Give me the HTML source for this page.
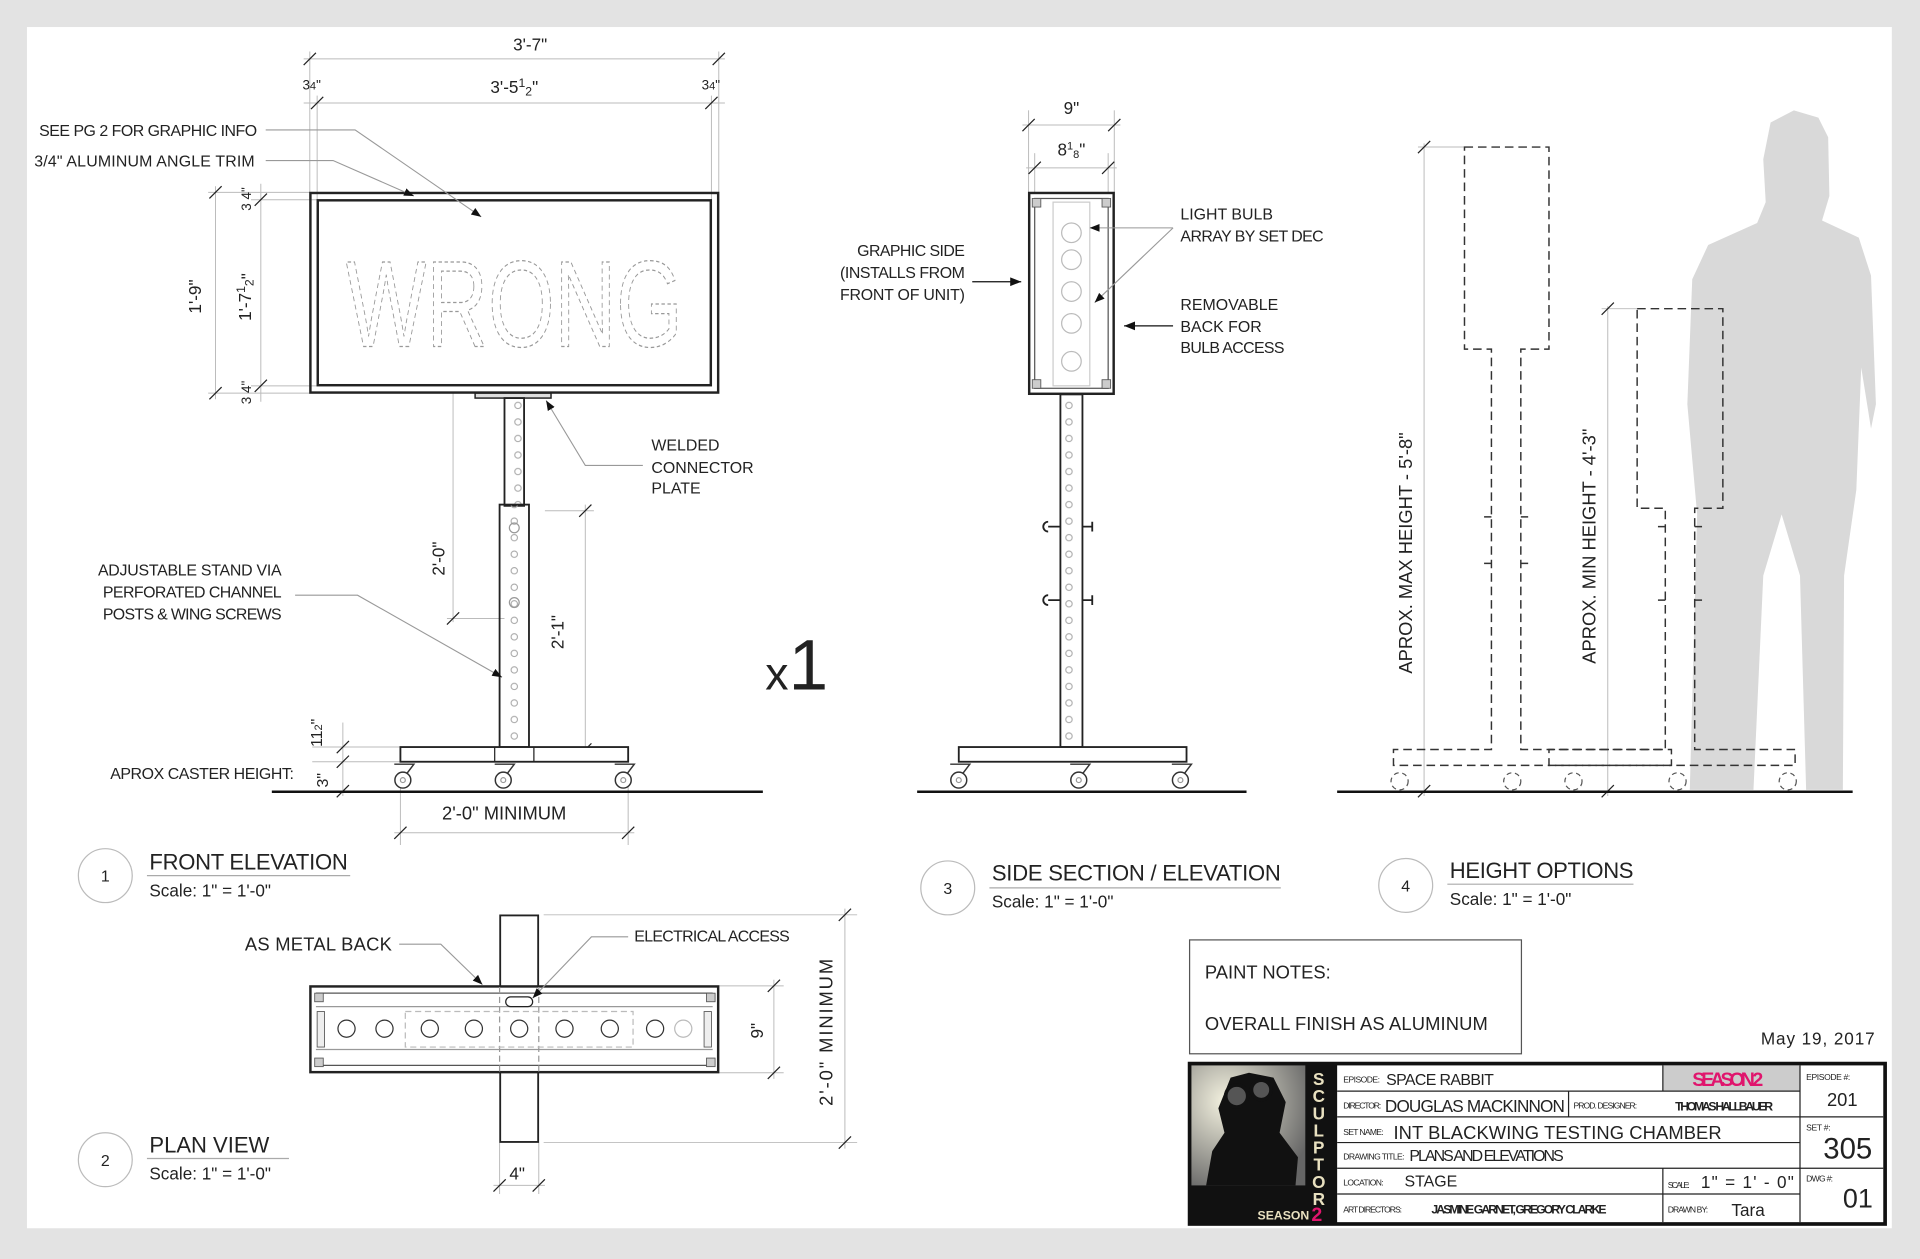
<!DOCTYPE html>
<html><head><meta charset="utf-8"><style>
html,body{margin:0;padding:0;background:#e3e3e3;}
svg{display:block;}
text{font-family:"Liberation Sans",sans-serif;fill:#222;}
</style></head><body>
<svg width="1920" height="1259" viewBox="0 0 1568 1028" xmlns="http://www.w3.org/2000/svg">
<defs>
<pattern id="holes" x="0" y="0" width="24" height="13.5" patternUnits="userSpaceOnUse">
<circle cx="12" cy="7" r="2.6" fill="none" stroke="#aaa" stroke-width="0.9"/></pattern>
<pattern id="holes2" x="0" y="0" width="18" height="13.5" patternUnits="userSpaceOnUse">
<circle cx="9" cy="7" r="2.6" fill="none" stroke="#aaa" stroke-width="0.9"/></pattern>
<marker id="ar" viewBox="0 0 10 10" refX="10" refY="5" markerWidth="9" markerHeight="9" orient="auto-start-reverse"><path d="M0,1 L10,5 L0,9 z" fill="#111"/></marker>
<g id="caster"><path d="M-8,-12 L8,-12 L2,-4" fill="none" stroke="#333" stroke-width="1.2"/><circle cx="-1" cy="1" r="6.5" fill="#fff" stroke="#333" stroke-width="1.2"/><circle cx="-1" cy="1" r="2" fill="none" stroke="#999"/></g>
<radialGradient id="rg" cx="0.3" cy="0.3" r="0.8"><stop offset="0" stop-color="#f4f2e0"/><stop offset="1" stop-color="#666"/></radialGradient>
</defs>
<rect x="0" y="0" width="1568" height="1028" fill="#e3e3e3"/>
<rect x="22" y="22" width="1523" height="981" fill="#fff"/>

<g stroke="#bbb" stroke-width="0.8" fill="none">
<line x1="253" y1="42" x2="253" y2="157"/><line x1="587" y1="42" x2="587" y2="157"/>
<line x1="259" y1="78" x2="259" y2="163"/><line x1="581" y1="78" x2="581" y2="163"/>
<line x1="248" y1="48" x2="592" y2="48"/><line x1="248" y1="84" x2="592" y2="84"/>
<line x1="170" y1="157" x2="253" y2="157"/><line x1="205" y1="163" x2="259" y2="163"/>
<line x1="170" y1="321" x2="253" y2="321"/><line x1="205" y1="315" x2="259" y2="315"/>
<line x1="176" y1="152" x2="176" y2="326"/><line x1="213" y1="150" x2="213" y2="328"/>
<line x1="370" y1="321" x2="370" y2="508"/><line x1="365" y1="505" x2="412" y2="505"/>
<line x1="445" y1="417" x2="485" y2="417"/><line x1="478" y1="412" x2="478" y2="612"/>
<line x1="255" y1="610" x2="327" y2="610"/><line x1="255" y1="622" x2="327" y2="622"/><line x1="275" y1="646" x2="327" y2="646"/>
<line x1="280" y1="590" x2="280" y2="650"/>
<line x1="327" y1="636" x2="327" y2="690"/><line x1="513" y1="636" x2="513" y2="690"/>
<line x1="322" y1="680" x2="518" y2="680"/>
<line x1="840" y1="90" x2="840" y2="157"/><line x1="910" y1="90" x2="910" y2="157"/>
<line x1="845" y1="125" x2="845" y2="157"/><line x1="905" y1="125" x2="905" y2="157"/>
<line x1="835" y1="102" x2="915" y2="102"/><line x1="838" y1="137" x2="912" y2="137"/>
<line x1="444" y1="747" x2="700" y2="747"/><line x1="444" y1="933" x2="700" y2="933"/>
<line x1="690" y1="742" x2="690" y2="938"/>
<line x1="587" y1="805" x2="640" y2="805"/><line x1="587" y1="876" x2="640" y2="876"/>
<line x1="632" y1="800" x2="632" y2="881"/>
<line x1="408" y1="933" x2="408" y2="975"/><line x1="440" y1="933" x2="440" y2="975"/><line x1="403" y1="968" x2="445" y2="968"/>
<line x1="1163" y1="117" x2="1163" y2="650"/><line x1="1158" y1="120" x2="1196" y2="120"/>
<line x1="1313" y1="250" x2="1313" y2="650"/><line x1="1308" y1="252" x2="1337" y2="252"/>
</g>
<g stroke="#222" stroke-width="1">
<path d="M248,53 l10,-10 M582,53 l10,-10 M254,89 l10,-10 M576,89 l10,-10 M171,162 l10,-10 M171,326 l10,-10 M208,168 l10,-10 M208,320 l10,-10 M365,510 l10,-10 M473,422 l10,-10 M473,617 l10,-10 M275,615 l10,-10 M275,627 l10,-10 M275,651 l10,-10 M322,685 l10,-10 M508,685 l10,-10 M835,107 l10,-10 M905,107 l10,-10 M840,142 l10,-10 M900,142 l10,-10 M685,752 l10,-10 M685,938 l10,-10 M627,810 l10,-10 M627,881 l10,-10 M403,973 l10,-10 M435,973 l10,-10 M1158,125 l10,-10 M1158,651 l10,-10 M1308,257 l10,-10 M1308,651 l10,-10"/>
</g>

<!-- FRONT ELEVATION -->
<rect x="253.5" y="157.5" width="333" height="163" fill="none" stroke="#222" stroke-width="2"/>
<rect x="259.5" y="163.5" width="321" height="151" fill="none" stroke="#222" stroke-width="2"/>
<text x="420" y="283" font-size="100" text-anchor="middle" stroke="#999" stroke-width="1" stroke-dasharray="4,3" style="fill:none" textLength="275" lengthAdjust="spacingAndGlyphs">WRONG</text>
<rect x="388" y="321" width="62" height="4" fill="#ddd" stroke="#222" stroke-width="1.2"/>
<rect x="412" y="325" width="16" height="88" fill="url(#holes2)" stroke="#222" stroke-width="1.5"/>
<rect x="408" y="412" width="24" height="198" fill="url(#holes)" stroke="#222" stroke-width="1.5"/>
<circle cx="420" cy="431" r="4" fill="none" stroke="#999"/><circle cx="420" cy="492" r="4" fill="none" stroke="#999"/>
<rect x="327" y="610" width="186" height="12" fill="#fff" stroke="#222" stroke-width="1.5"/>
<line x1="404" y1="610" x2="404" y2="622" stroke="#222"/><line x1="436" y1="610" x2="436" y2="622" stroke="#222"/>
<use href="#caster" x="330" y="636"/><use href="#caster" x="412" y="636"/><use href="#caster" x="510" y="636"/>
<line x1="222" y1="646.5" x2="623" y2="646.5" stroke="#111" stroke-width="2"/>

<g font-size="13">
<text x="433" y="41" text-anchor="middle" font-size="14">3'-7"</text>
<text x="420" y="76" text-anchor="middle" font-size="14">3'-5<tspan font-size="10" dy="-5">1</tspan><tspan font-size="10" dy="7">2</tspan><tspan dy="-2">"</tspan></text>
<text x="247" y="73" font-size="11">3<tspan font-size="9">4</tspan>"</text>
<text x="573" y="73" font-size="11">3<tspan font-size="9">4</tspan>"</text>
<text x="32" y="111" textLength="178">SEE PG 2 FOR GRAPHIC INFO</text>
<text x="28" y="136" textLength="180">3/4" ALUMINUM ANGLE TRIM</text>
<text transform="translate(164,256) rotate(-90)" font-size="14">1'-9"</text>
<text transform="translate(205,262) rotate(-90)" font-size="14">1'-7<tspan font-size="10" dy="-5">1</tspan><tspan font-size="10" dy="7">2</tspan>"</text>
<text transform="translate(205,172) rotate(-90)" font-size="11">3 4"</text>
<text transform="translate(205,330) rotate(-90)" font-size="11">3 4"</text>
<text x="532" y="368">WELDED</text><text x="532" y="386">CONNECTOR</text><text x="532" y="403">PLATE</text>
<text transform="translate(363,470) rotate(-90)" font-size="14">2'-0"</text>
<text transform="translate(460,530) rotate(-90)" font-size="14">2'-1"</text>
<text x="80" y="470" textLength="150">ADJUSTABLE STAND VIA</text><text x="84" y="488" textLength="146">PERFORATED CHANNEL</text><text x="84" y="506" textLength="146">POSTS &amp; WING SCREWS</text>
<text transform="translate(263,610) rotate(-90)" font-size="13">11<tspan font-size="9">2</tspan>"</text>
<text transform="translate(268,643) rotate(-90)" font-size="13">3"</text>
<text x="90" y="636" textLength="150">APROX CASTER HEIGHT:</text>
<text x="361" y="669" font-size="15">2'-0"  MINIMUM</text>
</g>
<g stroke="#999" stroke-width="0.9" fill="none">
<path d="M217,106 L290,106 L393,177" marker-end="url(#ar)"/>
<path d="M217,131 L272,131 L338,160" marker-end="url(#ar)"/>
<path d="M525,380 L478,380 L446,327" marker-end="url(#ar)"/>
<path d="M241,486 L292,486 L410,553" marker-end="url(#ar)"/>
</g>
<text x="625" y="563" font-size="38">x<tspan font-size="58">1</tspan></text>

<circle cx="86" cy="715" r="22" fill="none" stroke="#bbb"/><text x="86" y="720" font-size="13" text-anchor="middle">1</text>
<text x="122" y="710" font-size="18" textLength="162">FRONT ELEVATION</text><line x1="120" y1="715" x2="286" y2="715" stroke="#aaa"/>
<text x="122" y="732" font-size="14">Scale: 1" = 1'-0"</text>

<!-- SIDE -->
<rect x="840.5" y="157.5" width="69" height="164" fill="none" stroke="#222" stroke-width="2"/>
<rect x="845" y="162" width="60" height="155" fill="none" stroke="#555" stroke-width="1"/>
<rect x="860" y="165" width="30" height="150" fill="none" stroke="#ccc"/>
<g fill="none" stroke="#bbb"><circle cx="875" cy="190" r="8"/><circle cx="875" cy="212" r="8"/><circle cx="875" cy="238" r="8"/><circle cx="875" cy="264" r="8"/><circle cx="875" cy="295" r="8"/></g>
<g fill="#ccc" stroke="#555" stroke-width="0.7"><rect x="843" y="162" width="7" height="7"/><rect x="900" y="162" width="7" height="7"/><rect x="843" y="310" width="7" height="7"/><rect x="900" y="310" width="7" height="7"/></g>
<rect x="866" y="322" width="18" height="288" fill="url(#holes2)" stroke="#222" stroke-width="1.5"/>
<path d="M866,430 h-10 M856,426 a4,4 0 1 0 0,8 M884,430 h8 M892,426 v8 M866,490 h-10 M856,486 a4,4 0 1 0 0,8 M884,490 h8 M892,486 v8" stroke="#222" fill="none" stroke-width="1.5"/>
<rect x="783" y="610" width="186" height="12" fill="#fff" stroke="#222" stroke-width="1.5"/>
<use href="#caster" x="784" y="636"/><use href="#caster" x="882" y="636"/><use href="#caster" x="965" y="636"/>
<line x1="749" y1="646.5" x2="1018" y2="646.5" stroke="#111" stroke-width="2"/>
<g font-size="13">
<text x="875" y="93" text-anchor="middle" font-size="14">9"</text>
<text x="875" y="127" text-anchor="middle" font-size="14">8<tspan font-size="9" dy="-5">1</tspan><tspan font-size="9" dy="7">8</tspan><tspan dy="-2">"</tspan></text>
<text x="700" y="209" textLength="88">GRAPHIC SIDE</text><text x="686" y="227" textLength="102">(INSTALLS FROM</text><text x="686" y="245" textLength="102">FRONT OF UNIT)</text>
<text x="964" y="179">LIGHT BULB</text><text x="964" y="197" textLength="117">ARRAY BY SET DEC</text>
<text x="964" y="253">REMOVABLE</text><text x="964" y="271">BACK FOR</text><text x="964" y="288" textLength="85">BULB ACCESS</text>
</g>
<g stroke="#111" stroke-width="1" fill="none">
<path d="M794,230 L834,230" marker-end="url(#ar)"/>
<path d="M958,266 L918,266" marker-end="url(#ar)"/>
</g>
<g stroke="#999" stroke-width="0.9" fill="none">
<path d="M958,186 L890,186" marker-end="url(#ar)"/>
<path d="M958,186 L894,247" marker-end="url(#ar)"/>
</g>
<circle cx="774" cy="725" r="22" fill="none" stroke="#bbb"/><text x="774" y="730" font-size="13" text-anchor="middle">3</text>
<text x="810" y="719" font-size="18" textLength="236">SIDE SECTION / ELEVATION</text><line x1="808" y1="725" x2="1046" y2="725" stroke="#aaa"/>
<text x="810" y="741" font-size="14">Scale: 1" = 1'-0"</text>

<!-- HEIGHT OPTIONS -->
<path d="M1380,645 L1386,420 L1378,330 L1382,228 L1395,200 L1435,182 L1442,165 L1440,130 L1446,100 L1465,90 L1485,96 L1493,112 L1494,160 L1488,180 L1518,194 L1528,225 L1532,330 L1528,350 L1520,300 L1516,400 L1506,470 L1505,645 L1475,645 L1470,470 L1455,420 L1440,470 L1432,645 Z" fill="#d9d9d9"/>
<g fill="none" stroke="#333" stroke-width="1.2" stroke-dasharray="7,4">
<path d="M1196,120 L1265,120 L1265,285 L1242,285 L1242,612 L1365,612 L1365,625 L1138,625 L1138,612 L1218,612 L1218,285 L1196,285 Z"/>
<path d="M1337,252 L1407,252 L1407,415 L1384,415 L1384,612 L1466,612 L1466,625 L1265,625 L1265,612 L1360,612 L1360,415 L1337,415 Z"/>
<path d="M1218,422 h-6 M1218,460 h-6 M1242,422 h6 M1242,460 h6 M1360,430 h-6 M1360,490 h-6 M1384,430 h6 M1384,490 h6"/>
</g>
<g fill="none" stroke="#555" stroke-width="1" stroke-dasharray="4,3">
<circle cx="1143" cy="638" r="7"/><circle cx="1235" cy="638" r="7"/><circle cx="1285" cy="638" r="7"/><circle cx="1370" cy="638" r="7"/><circle cx="1460" cy="638" r="7"/>
</g>
<line x1="1092" y1="646.5" x2="1513" y2="646.5" stroke="#111" stroke-width="2"/>
<text transform="translate(1153,550) rotate(-90)" font-size="15">APROX. MAX HEIGHT -    5'-8"</text>
<text transform="translate(1303,542) rotate(-90)" font-size="15">APROX. MIN HEIGHT -    4'-3"</text>
<circle cx="1148" cy="723" r="22" fill="none" stroke="#bbb"/><text x="1148" y="728" font-size="13" text-anchor="middle">4</text>
<text x="1184" y="717" font-size="18" textLength="150">HEIGHT OPTIONS</text><line x1="1182" y1="722" x2="1334" y2="722" stroke="#aaa"/>
<text x="1184" y="739" font-size="14">Scale: 1" = 1'-0"</text>

<!-- PLAN VIEW -->
<rect x="408.5" y="747.5" width="31" height="185" fill="#fff" stroke="#222" stroke-width="1.5"/>
<rect x="253.5" y="805.5" width="333" height="70" fill="#fff" stroke="#222" stroke-width="2"/>
<line x1="258" y1="811" x2="582" y2="811" stroke="#555"/><line x1="258" y1="870" x2="582" y2="870" stroke="#555"/>
<line x1="258" y1="822" x2="582" y2="822" stroke="#999"/><line x1="258" y1="857" x2="582" y2="857" stroke="#999"/>
<line x1="408" y1="806" x2="408" y2="875" stroke="#999" stroke-dasharray="5,3"/><line x1="440" y1="806" x2="440" y2="875" stroke="#999" stroke-dasharray="5,3"/>
<rect x="331" y="826" width="186" height="29" fill="none" stroke="#bbb" stroke-dasharray="5,3"/>
<rect x="413" y="814" width="22" height="8" rx="4" fill="#fff" stroke="#222"/>
<g fill="#fff" stroke="#333"><circle cx="283" cy="840" r="7"/><circle cx="314" cy="840" r="7"/><circle cx="351" cy="840" r="7"/><circle cx="387" cy="840" r="7"/><circle cx="424" cy="840" r="7"/><circle cx="461" cy="840" r="7"/><circle cx="498" cy="840" r="7"/><circle cx="535" cy="840" r="7"/><circle cx="558" cy="840" r="7" stroke="#bbb"/></g>
<g fill="#ccc" stroke="#555" stroke-width="0.7"><rect x="257" y="811" width="7" height="7"/><rect x="577" y="811" width="7" height="7"/><rect x="257" y="864" width="7" height="7"/><rect x="577" y="864" width="7" height="7"/><rect x="259" y="826" width="6" height="29" fill="#eee"/><rect x="575" y="826" width="6" height="29" fill="#eee"/></g>
<text x="200" y="776" font-size="15" textLength="120">AS METAL BACK</text>
<text x="518" y="769" font-size="13" textLength="127">ELECTRICAL ACCESS</text>
<g stroke="#999" stroke-width="0.9" fill="none">
<path d="M326,771 L360,771 L394,804" marker-end="url(#ar)"/>
<path d="M513,765 L483,765 L435,815" marker-end="url(#ar)"/>
</g>
<text transform="translate(623,848) rotate(-90)" font-size="14">9"</text>
<text transform="translate(680,903) rotate(-90)" font-size="15" textLength="120">2'-0"   MINIMUM</text>
<text x="416" y="963" font-size="14">4"</text>
<circle cx="86" cy="947" r="22" fill="none" stroke="#bbb"/><text x="86" y="952" font-size="13" text-anchor="middle">2</text>
<text x="122" y="941" font-size="18">PLAN VIEW</text><line x1="120" y1="946" x2="236" y2="946" stroke="#aaa"/>
<text x="122" y="963" font-size="14">Scale: 1" = 1'-0"</text>

<!-- PAINT NOTES -->
<rect x="971.5" y="767.5" width="271" height="93" fill="#fff" stroke="#555"/>
<text x="984" y="799" font-size="15">PAINT NOTES:</text>
<text x="984" y="841" font-size="15" textLength="231">OVERALL FINISH AS ALUMINUM</text>
<text x="1438" y="853" font-size="14" textLength="93">May 19, 2017</text>

<!-- TITLE BLOCK -->
<rect x="970" y="867" width="571" height="134" fill="#111"/>
<rect x="973" y="870" width="93" height="98" fill="url(#rg)"/>
<path d="M985,968 L990,940 L1000,925 L995,905 L1005,880 L1020,876 L1040,880 L1050,900 L1045,925 L1060,945 L1058,968 Z" fill="#111"/>
<circle cx="1010" cy="895" r="9" fill="#555" stroke="#111" stroke-width="3"/><circle cx="1030" cy="890" r="8" fill="#555" stroke="#111" stroke-width="3"/>
<g font-family="Liberation Serif" font-weight="bold" font-size="14" text-anchor="middle">
<text x="1077" y="886" style="fill:#e8e0c0">S</text><text x="1077" y="900" style="fill:#e8e0c0">C</text><text x="1077" y="914" style="fill:#e8e0c0">U</text><text x="1077" y="928" style="fill:#e8e0c0">L</text><text x="1077" y="942" style="fill:#e8e0c0">P</text><text x="1077" y="956" style="fill:#e8e0c0">T</text><text x="1077" y="970" style="fill:#e8e0c0">O</text><text x="1077" y="984" style="fill:#e8e0c0">R</text>
</g>
<text x="1027" y="996" font-family="Liberation Serif" font-weight="bold" font-size="10" style="fill:#e8e0c0">SEASON</text>
<text x="1071" y="997" font-family="Liberation Serif" font-weight="bold" font-size="16" style="fill:#e0156d">2</text>
<rect x="1092" y="870" width="446" height="128" fill="#fff"/>
<rect x="1358" y="870" width="112" height="21" fill="#ccc"/>
<g stroke="#222" stroke-width="1" fill="none">
<line x1="1470" y1="870" x2="1470" y2="998"/>
<line x1="1092" y1="891" x2="1470" y2="891"/><line x1="1092" y1="912" x2="1538" y2="912"/>
<line x1="1092" y1="933" x2="1470" y2="933"/><line x1="1092" y1="954" x2="1538" y2="954"/>
<line x1="1092" y1="975" x2="1470" y2="975"/>
<line x1="1358" y1="870" x2="1358" y2="891"/><line x1="1281" y1="891" x2="1281" y2="912"/>
<line x1="1358" y1="954" x2="1358" y2="998"/>
</g>
<g font-size="7"><text x="1097" y="884" textLength="30">EPISODE:</text><text x="1097" y="905" textLength="31">DIRECTOR:</text><text x="1285" y="905" textLength="52">PROD. DESIGNER:</text><text x="1097" y="927" textLength="33">SET NAME:</text><text x="1097" y="947" textLength="50">DRAWING TITLE:</text><text x="1097" y="968" textLength="33">LOCATION:</text><text x="1097" y="990" textLength="48">ART DIRECTORS:</text><text x="1362" y="970" textLength="18">SCALE:</text><text x="1362" y="990" textLength="33">DRAWN BY:</text><text x="1475" y="882" textLength="36">EPISODE #:</text><text x="1475" y="923" textLength="20">SET #:</text><text x="1475" y="965" textLength="22">DWG #:</text></g>
<text x="1132" y="886" font-size="13" textLength="88">SPACE RABBIT</text>
<text x="1131" y="908" font-size="14" textLength="147">DOUGLAS MACKINNON</text>
<text x="1368" y="907" font-size="10" font-weight="bold" textLength="80">THOMAS HALLBAUER</text>
<text x="1138" y="930" font-size="15" textLength="268">INT BLACKWING TESTING CHAMBER</text>
<text x="1151" y="948" font-size="13" textLength="126">PLANS AND  ELEVATIONS</text>
<text x="1147" y="969" font-size="13">STAGE</text>
<text x="1169" y="991" font-size="10" font-weight="bold" textLength="143">JASMINE GARNET, GREGORY CLARKE</text>
<text x="1389" y="970" font-size="14" textLength="76">1" = 1' - 0"</text>
<text x="1414" y="993" font-size="14">Tara</text>
<text x="1382" y="887" font-size="16" font-weight="bold" style="fill:#e0156d" textLength="58">SEASON 2</text>
<text x="1492" y="903" font-size="15">201</text>
<text x="1489" y="946" font-size="24">305</text>
<text x="1505" y="986" font-size="22">01</text>
</svg>
</body></html>
